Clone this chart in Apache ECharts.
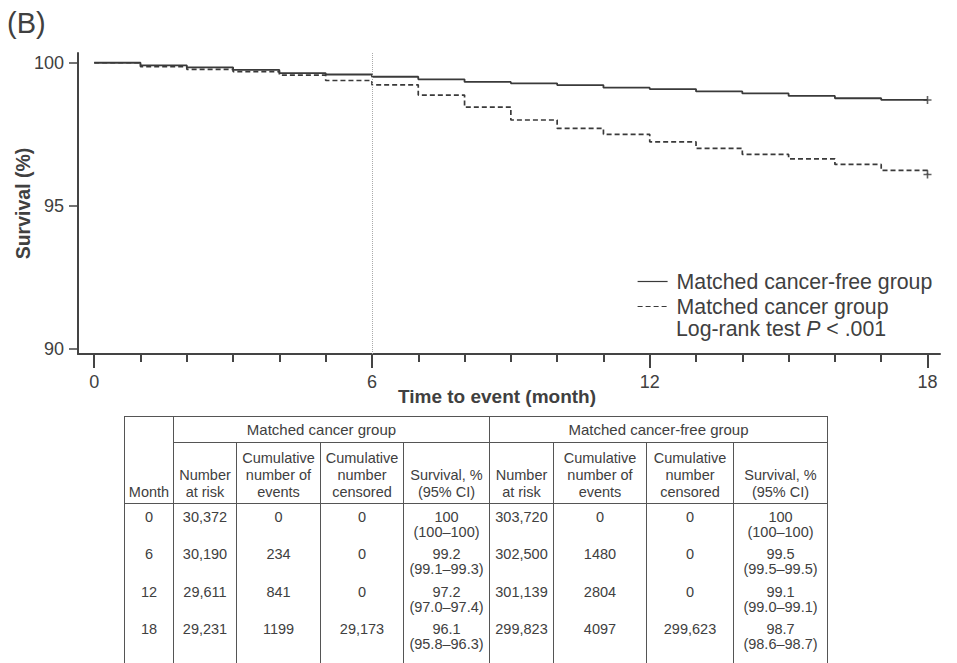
<!DOCTYPE html>
<html>
<head>
<meta charset="utf-8">
<script src="https://cdn.jsdelivr.net/npm/echarts@6/dist/echarts.min.js"></script>
<style>
  html, body { margin: 0; padding: 0; background: #fff; overflow: hidden; }
  body { width: 957px; height: 663px; position: relative; font-family: "Liberation Sans", Arial, sans-serif; }
  #chart { position: absolute; left: 0; top: 0; width: 957px; height: 663px; }
  #tableWrap { position: absolute; left: 124px; top: 416px; width: 705px; height: 260px; overflow: hidden; }
  table { border-collapse: collapse; table-layout: fixed; color: #404040; font-size: 14.5px; }
  td, th { border-left: 1px solid #555; border-right: 1px solid #555; font-weight: normal; text-align: center; padding: 0; }
  tr.group th { border-top: 1px solid #555; height: 25px; vertical-align: middle; font-size: 15px; }
  tr.group th.left-group { padding-right: 20px; }
  tr.head th { border-top: 1px solid #555; border-bottom: 1px solid #555; height: 58px; vertical-align: bottom; line-height: 17px; padding-bottom: 2px; }
  tr.group th.month { border-top: 1px solid #555; border-bottom: 1px solid #555; vertical-align: bottom; line-height: 17px; padding-bottom: 2px; font-size: 14.5px; }
  tr.data td { height: 37.5px; vertical-align: top; line-height: 15px; padding-top: 6px; box-sizing: border-box; }
</style>
</head>
<body>
<div id="chart"></div>
<div id="tableWrap"><table id="tbl"></table></div>
<script>
// Kaplan–Meier step values, one per month (value holds from that month to the next)
const months = [0, 1, 2, 3, 4, 5, 6, 7, 8, 9, 10, 11, 12, 13, 14, 15, 16, 17, 18];
const cancerFree = [100, 99.91, 99.84, 99.75, 99.64, 99.59, 99.51, 99.42, 99.33, 99.28, 99.22, 99.13, 99.08, 99.00, 98.93, 98.84, 98.76, 98.70, 98.7];
const cancer = [100, 99.86, 99.77, 99.69, 99.57, 99.38, 99.23, 98.87, 98.45, 98.00, 97.71, 97.50, 97.24, 97.01, 96.80, 96.64, 96.45, 96.24, 96.1];

// Censoring marks at end of follow-up
const censorMonth = 18;
const censorFree = 98.7;
const censorCancer = 96.1;

const xLabelTicks = [0, 6, 12, 18];
const yLabelTicks = [90, 95, 100];
const landmarkMonth = 6;

const seriesNames = ['Matched cancer-free group', 'Matched cancer group'];

// Number-at-risk table
const tableMonths = ['0', '6', '12', '18'];
const cancerAtRisk = ['30,372', '30,190', '29,611', '29,231'];
const cancerEvents = ['0', '234', '841', '1199'];
const cancerCensored = ['0', '0', '0', '29,173'];
const cancerSurv = ['100', '99.2', '97.2', '96.1'];
const cancerCI = ['(100–100)', '(99.1–99.3)', '(97.0–97.4)', '(95.8–96.3)'];
const freeAtRisk = ['303,720', '302,500', '301,139', '299,823'];
const freeEvents = ['0', '1480', '2804', '4097'];
const freeCensored = ['0', '0', '0', '299,623'];
const freeSurv = ['100', '99.5', '99.1', '98.7'];
const freeCI = ['(100–100)', '(99.5–99.5)', '(99.0–99.1)', '(98.6–98.7)'];

const ink = '#3a3a3a';
const textColor = '#404040';
const font = '"Liberation Sans", Arial, sans-serif';
const plusPath = 'path://M3.2,0H4.8V3.2H8V4.8H4.8V8H3.2V4.8H0V3.2H3.2Z';

const chart = echarts.init(document.getElementById('chart'), null, { renderer: 'svg' });

chart.setOption({
  animation: false,
  textStyle: { fontFamily: font, color: textColor },
  grid: { left: 78, top: 53, right: 17, bottom: 309, containLabel: false, outerBoundsMode: 'none' },
  xAxis: [
    {
      type: 'value', min: -0.35, max: 18.27,
      name: 'Time to event (month)', nameLocation: 'middle', nameGap: 33, nameMoveOverlap: false,
      nameTextStyle: { fontSize: 19, fontWeight: 'bold', color: textColor, padding: [0, 24, 0, 0] },
      axisLine: { show: true, onZero: false, lineStyle: { color: '#444', width: 2 } },
      axisTick: { show: true, customValues: xLabelTicks, length: 14, lineStyle: { color: '#444', width: 2 } },
      axisLabel: { show: true, customValues: xLabelTicks, fontSize: 18, color: textColor, margin: 19 },
      splitLine: { show: false }
    },
    {
      type: 'value', min: -0.35, max: 18.27, position: 'bottom',
      axisLine: { show: false, onZero: false },
      axisTick: { show: true, customValues: months, length: 8, lineStyle: { color: '#444', width: 2 } },
      axisLabel: { show: false },
      splitLine: { show: false }
    }
  ],
  yAxis: {
    type: 'value', min: 89.83, max: 100.34,
    name: 'Survival (%)', nameLocation: 'middle', nameGap: 45, nameRotate: 90, nameMoveOverlap: false,
    nameTextStyle: { fontSize: 19.5, fontWeight: 'bold', color: textColor },
    axisLine: { show: true, onZero: false, lineStyle: { color: '#444', width: 2 } },
    axisTick: { show: true, customValues: yLabelTicks, length: 9, lineStyle: { color: '#444', width: 1.5 } },
    axisLabel: { show: true, customValues: yLabelTicks, fontSize: 18, color: textColor, margin: 14 },
    splitLine: { show: false }
  },
  legend: {
    data: seriesNames,
    orient: 'vertical', left: 637, top: 271, padding: 0,
    itemWidth: 30, itemHeight: 14, itemGap: 4,
    textStyle: { fontSize: 21.3, color: textColor, padding: [0, 0, 0, 4], fontFamily: font },
    itemStyle: { opacity: 0, color: 'transparent', borderWidth: 0 },
    lineStyle: { width: 1.2 }
  },
  graphic: [
    {
      type: 'text', left: 676, top: 318,
      style: {
        text: '{a|Log-rank test }{i|P}{a| < .001}',
        rich: {
          a: { fontSize: 21.3, fill: textColor, fontFamily: font },
          i: { fontSize: 21.3, fill: textColor, fontFamily: font, fontStyle: 'italic' }
        }
      }
    },
    {
      type: 'text', left: 7, top: 8,
      style: { text: '(B)', fontSize: 29, fill: textColor, fontFamily: font }
    }
  ],
  series: [
    {
      name: seriesNames[1], type: 'line', step: 'end',
      data: months.map((m, i) => [m, cancer[i]]),
      symbol: 'none',
      lineStyle: { color: ink, width: 1.7, type: [5, 3] },
      itemStyle: { color: ink },
      z: 2
    },
    {
      name: seriesNames[0], type: 'line', step: 'end',
      data: months.map((m, i) => [m, cancerFree[i]]),
      symbol: 'none',
      lineStyle: { color: ink, width: 1.8 },
      itemStyle: { color: ink },
      z: 3,
      markLine: {
        silent: true, symbol: 'none',
        label: { show: false },
        lineStyle: { type: 'dotted', color: '#aaa', width: 1 },
        data: [{ xAxis: landmarkMonth }]
      }
    },
    {
      name: 'censored', type: 'scatter',
      data: [[censorMonth, censorFree], [censorMonth, censorCancer]],
      symbol: plusPath, symbolSize: 8,
      itemStyle: { color: ink },
      z: 4
    }
  ]
});

// Build the number-at-risk table
const tbl = document.getElementById('tbl');
const colWidths = [49, 63, 84, 83, 86, 64, 93, 87, 94];
let html = '<colgroup>' + colWidths.map(w => '<col style="width:' + w + 'px">').join('') + '</colgroup>';
html += '<tr class="group"><th class="month" rowspan="2">Month</th>' +
  '<th class="left-group" colspan="4">Matched cancer group</th><th colspan="4">Matched cancer-free group</th></tr>';
const heads = ['Number<br>at risk', 'Cumulative<br>number of<br>events', 'Cumulative<br>number<br>censored', 'Survival, %<br>(95% CI)'];
html += '<tr class="head">' + heads.concat(heads).map(h => '<th>' + h + '</th>').join('') + '</tr>';
tableMonths.forEach((m, i) => {
  html += '<tr class="data">' +
    '<td>' + m + '</td>' +
    '<td>' + cancerAtRisk[i] + '</td>' +
    '<td>' + cancerEvents[i] + '</td>' +
    '<td>' + cancerCensored[i] + '</td>' +
    '<td>' + cancerSurv[i] + '<br>' + cancerCI[i] + '</td>' +
    '<td>' + freeAtRisk[i] + '</td>' +
    '<td>' + freeEvents[i] + '</td>' +
    '<td>' + freeCensored[i] + '</td>' +
    '<td>' + freeSurv[i] + '<br>' + freeCI[i] + '</td>' +
    '</tr>';
});
html += '<tr class="data"><td></td><td></td><td></td><td></td><td></td><td></td><td></td><td></td><td></td></tr>';
tbl.innerHTML = html;
</script>
</body>
</html>
